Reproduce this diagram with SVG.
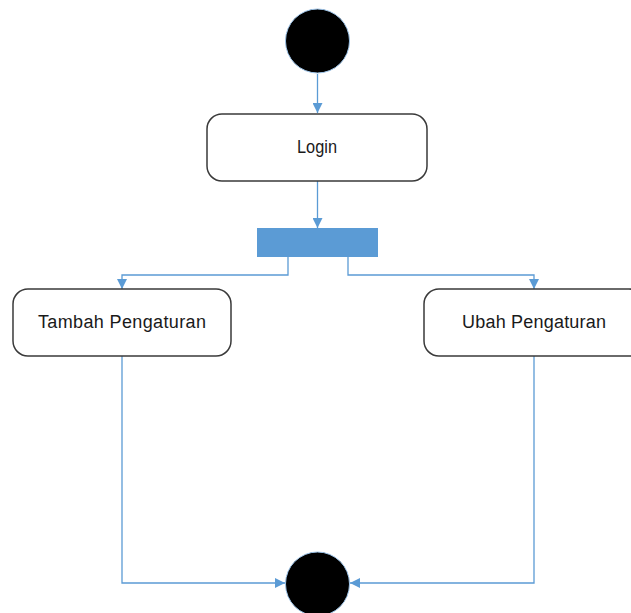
<svg xmlns="http://www.w3.org/2000/svg" width="631" height="613" viewBox="0 0 631 613">
<style>
.box{fill:#fff;stroke:#3a3a3a;stroke-width:1.5}
.lbl{font-family:"Liberation Sans",Arial,sans-serif;font-size:18px;fill:#1a1a1a;text-anchor:middle}
.edge{fill:none;stroke:#5B9BD5;stroke-width:1.3}
.dot{fill:#000;stroke:#9cc3e8;stroke-width:1}
</style>
<defs>
<marker id="ah" viewBox="0 0 10 10" refX="10" refY="5" markerWidth="10" markerHeight="10" markerUnits="userSpaceOnUse" orient="auto">
<path d="M0,0 L10,5 L0,10 z" fill="#5B9BD5"/>
</marker>
</defs>
<rect width="631" height="613" fill="#fff"/>
<g id="connectors">
<path class="edge" d="M317.5,74 V113" marker-end="url(#ah)"/>
<path class="edge" d="M317.5,181 V228" marker-end="url(#ah)"/>
<path class="edge" d="M288,257 V275 H122 V289" marker-end="url(#ah)"/>
<path class="edge" d="M348,257 V275 H534 V289" marker-end="url(#ah)"/>
<path class="edge" d="M122,356 V583 H285" marker-end="url(#ah)"/>
<path class="edge" d="M534,356 V583 H350" marker-end="url(#ah)"/>
</g>
<g id="start"><circle class="dot" cx="317.5" cy="41" r="32"/></g>
<g id="login"><rect class="box" x="207" y="114" width="220" height="67" rx="15"/><text class="lbl" x="317" y="153" textLength="40" lengthAdjust="spacingAndGlyphs">Login</text></g>
<g id="fork"><rect x="257" y="228" width="121" height="29" fill="#5B9BD5"/></g>
<g id="tambah"><rect class="box" x="13" y="289" width="218" height="67" rx="15"/><text class="lbl" x="122" y="328" textLength="168">Tambah Pengaturan</text></g>
<g id="ubah"><rect class="box" x="424" y="289" width="220" height="67" rx="15"/><text class="lbl" x="534" y="328" textLength="144">Ubah Pengaturan</text></g>
<g id="end"><circle class="dot" cx="317.5" cy="584" r="32"/></g>
</svg>
